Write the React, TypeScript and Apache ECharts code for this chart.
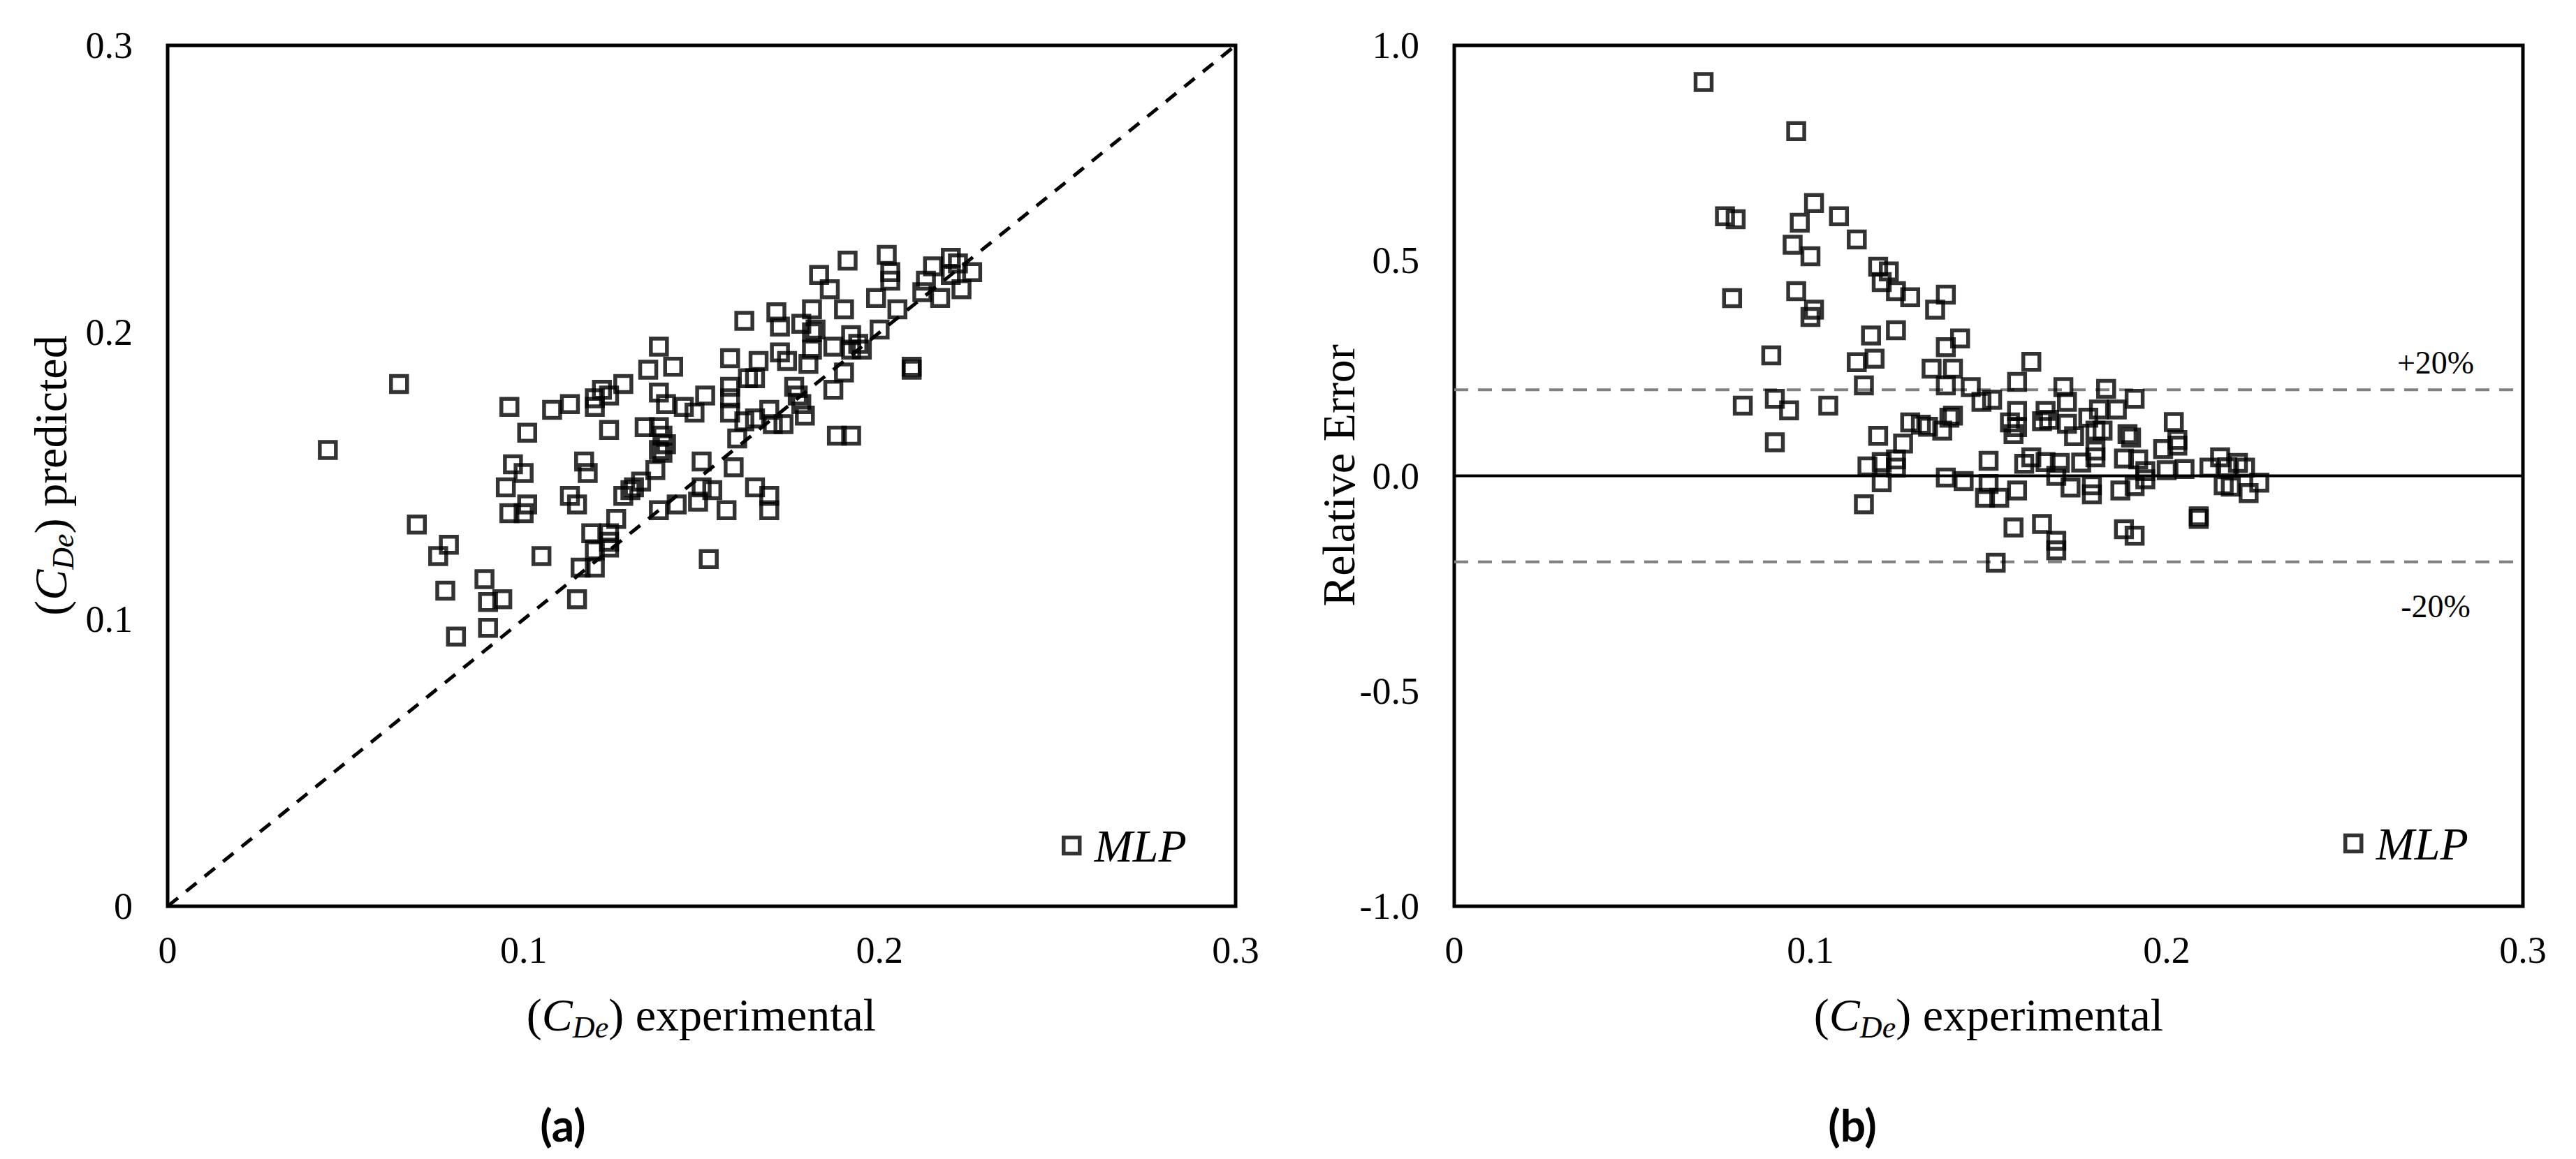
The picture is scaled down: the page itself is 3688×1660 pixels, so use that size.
import React, { useEffect, useRef } from 'react';
import * as echarts from 'echarts';

// ---------- data ----------
const xTickLabels = ['0', '0.1', '0.2', '0.3'];
const yTickLabelsA = ['0', '0.1', '0.2', '0.3'];
const yTickLabelsB = ['-1.0', '-0.5', '0.0', '0.5', '1.0'];
const seriesName = 'MLP';
const bandValues = [0.2, -0.2];
const bandLabels = ['+20%', '-20%'];
const panelLabels = ['(a)', '(b)'];

// (a) experimental vs predicted
const predictedPoints: [number, number][] = [
  [0.045, 0.159], [0.065, 0.182], [0.070, 0.133], [0.079, 0.126], [0.076, 0.122],
  [0.078, 0.110], [0.081, 0.094], [0.089, 0.114], [0.090, 0.106], [0.094, 0.107],
  [0.090, 0.097], [0.096, 0.174], [0.101, 0.165], [0.097, 0.154], [0.100, 0.151],
  [0.095, 0.146], [0.101, 0.140], [0.096, 0.137], [0.100, 0.137], [0.105, 0.122],
  [0.108, 0.173], [0.113, 0.175], [0.113, 0.143], [0.115, 0.140], [0.115, 0.107],
  [0.117, 0.155], [0.118, 0.151], [0.116, 0.118], [0.120, 0.118], [0.119, 0.130],
  [0.120, 0.124], [0.120, 0.177], [0.120, 0.174], [0.122, 0.180], [0.124, 0.178],
  [0.128, 0.182], [0.124, 0.166], [0.124, 0.127], [0.124, 0.130], [0.124, 0.125],
  [0.126, 0.135], [0.128, 0.143], [0.130, 0.145], [0.131, 0.146], [0.133, 0.148],
  [0.138, 0.195], [0.135, 0.187], [0.142, 0.188], [0.138, 0.179], [0.140, 0.175],
  [0.151, 0.178], [0.145, 0.174], [0.148, 0.172], [0.134, 0.167], [0.138, 0.167],
  [0.140, 0.161], [0.139, 0.158], [0.137, 0.152], [0.150, 0.155], [0.150, 0.146],
  [0.153, 0.145], [0.159, 0.153], [0.165, 0.146], [0.169, 0.143], [0.169, 0.138],
  [0.157, 0.138], [0.149, 0.141], [0.143, 0.140], [0.138, 0.138], [0.152, 0.121],
  [0.158, 0.191], [0.166, 0.190], [0.172, 0.193], [0.174, 0.190], [0.180, 0.189],
  [0.163, 0.184], [0.165, 0.184], [0.158, 0.181], [0.158, 0.177], [0.158, 0.172],
  [0.162, 0.204], [0.171, 0.207], [0.172, 0.202], [0.178, 0.203], [0.181, 0.208],
  [0.183, 0.220], [0.186, 0.215], [0.190, 0.208], [0.181, 0.200], [0.182, 0.201],
  [0.181, 0.194], [0.176, 0.181], [0.178, 0.175], [0.179, 0.171], [0.187, 0.180],
  [0.190, 0.186], [0.187, 0.195], [0.192, 0.199], [0.194, 0.196], [0.195, 0.194],
  [0.192, 0.194], [0.200, 0.201], [0.199, 0.212], [0.205, 0.208], [0.191, 0.225],
  [0.202, 0.227], [0.203, 0.221], [0.203, 0.218], [0.209, 0.188], [0.209, 0.187],
  [0.188, 0.164], [0.192, 0.164], [0.215, 0.223], [0.220, 0.226], [0.222, 0.224],
  [0.226, 0.221], [0.213, 0.218], [0.212, 0.214], [0.217, 0.212], [0.223, 0.215],
  [0.220, 0.220], [0.160, 0.163], [0.165, 0.170], [0.169, 0.173], [0.170, 0.168],
  [0.173, 0.168], [0.162, 0.169], [0.177, 0.178], [0.138, 0.159], [0.139, 0.164],
];

// (b) experimental vs relative error
const relativeErrorPoints: [number, number][] = [
  [0.070, 0.915], [0.096, 0.801], [0.076, 0.603], [0.079, 0.596], [0.101, 0.634],
  [0.097, 0.588], [0.108, 0.603], [0.095, 0.537], [0.100, 0.510], [0.113, 0.549],
  [0.119, 0.486], [0.122, 0.475], [0.120, 0.450], [0.124, 0.429], [0.128, 0.415],
  [0.138, 0.421], [0.135, 0.386], [0.078, 0.413], [0.096, 0.429], [0.101, 0.386],
  [0.100, 0.369], [0.117, 0.326], [0.124, 0.338], [0.142, 0.319], [0.138, 0.299],
  [0.089, 0.280], [0.113, 0.264], [0.118, 0.272], [0.134, 0.249], [0.140, 0.249],
  [0.115, 0.210], [0.138, 0.210], [0.145, 0.206], [0.158, 0.218], [0.162, 0.265],
  [0.081, 0.163], [0.090, 0.179], [0.094, 0.152], [0.105, 0.163], [0.090, 0.078],
  [0.119, 0.093], [0.126, 0.075], [0.128, 0.124], [0.131, 0.119], [0.133, 0.114],
  [0.137, 0.105], [0.140, 0.140], [0.139, 0.135], [0.148, 0.172], [0.151, 0.177],
  [0.158, 0.151], [0.157, 0.097], [0.158, 0.113], [0.150, 0.035], [0.160, 0.028],
  [0.116, 0.022], [0.120, 0.032], [0.124, 0.038], [0.124, 0.019], [0.120, -0.015],
  [0.115, -0.066], [0.138, -0.004], [0.143, -0.012], [0.150, -0.019], [0.149, -0.051],
  [0.153, -0.051], [0.158, -0.034], [0.157, -0.120], [0.152, -0.202], [0.171, 0.206],
  [0.183, 0.202], [0.191, 0.179], [0.172, 0.172], [0.166, 0.151], [0.165, 0.127],
  [0.167, 0.130], [0.172, 0.121], [0.181, 0.154], [0.186, 0.154], [0.178, 0.135],
  [0.180, 0.105], [0.182, 0.105], [0.174, 0.092], [0.189, 0.097], [0.190, 0.089],
  [0.202, 0.125], [0.203, 0.083], [0.203, 0.070], [0.199, 0.062], [0.180, 0.059],
  [0.180, 0.043], [0.162, 0.043], [0.166, 0.032], [0.170, 0.030], [0.176, 0.031],
  [0.188, 0.040], [0.192, 0.038], [0.194, 0.011], [0.200, 0.013], [0.205, 0.016],
  [0.212, 0.019], [0.215, 0.043], [0.220, 0.030], [0.222, 0.019], [0.217, 0.020],
  [0.226, -0.016], [0.216, -0.022], [0.223, -0.040], [0.218, -0.025], [0.169, 0.000],
  [0.173, -0.027], [0.179, -0.022], [0.179, -0.043], [0.187, -0.034], [0.191, -0.024],
  [0.194, -0.008], [0.165, -0.112], [0.169, -0.151], [0.169, -0.173], [0.188, -0.124],
  [0.191, -0.139], [0.209, -0.094], [0.209, -0.100], [0.156, 0.124],
];

// ---------- styling ----------
const SERIF = 'Liberation Serif';
const X_MIN = 0, X_MAX = 0.3, X_STEP = 0.1;
const YA_MIN = 0, YA_MAX = 0.3, YA_STEP = 0.1;
const YB_MIN = -1, YB_MAX = 1, YB_STEP = 0.5;

const markerStyle = { color: 'rgba(0,0,0,0)', borderColor: '#000', borderWidth: 5.5 };

const titleRich = {
  t: { fontFamily: SERIF, fontSize: 66, lineHeight: 80, fill: '#000' },
  c: { fontFamily: SERIF, fontSize: 66, lineHeight: 80, fontStyle: 'italic', fill: '#000' },
  s: { fontFamily: SERIF, fontSize: 44, lineHeight: 42, fontStyle: 'italic', verticalAlign: 'bottom', fill: '#000' },
};

function titleText(x: number, y: number, word: string, rotation = 0) {
  return {
    type: 'text',
    x,
    y,
    rotation,
    silent: true,
    style: {
      text: `{t|(}{c|C}{s|De}{t|) ${word}}`,
      rich: titleRich,
      align: 'center',
      verticalAlign: 'middle',
      fontFamily: SERIF,
      fontSize: 66,
      fill: '#000',
    },
  };
}

function plainText(x: number, y: number, text: string, family: string, size: number, weight = 'normal') {
  return {
    type: 'text',
    x,
    y,
    silent: true,
    style: {
      text,
      align: 'center',
      verticalAlign: 'middle',
      fill: '#000',
      font: `${weight} ${size}px "${family}"`,
      fontFamily: family,
      fontSize: size,
      fontWeight: weight,
    },
  };
}

function makeXAxis(gridIndex: number) {
  return {
    gridIndex,
    type: 'value',
    min: X_MIN,
    max: X_MAX,
    interval: X_STEP,
    axisLine: { show: false },
    axisTick: { show: false },
    splitLine: { show: false },
    axisLabel: {
      margin: 36,
      fontFamily: SERIF,
      fontSize: 54,
      color: '#000',
      formatter: (v: number) => xTickLabels[Math.round((v - X_MIN) / X_STEP)] ?? '',
    },
  };
}

function makeYAxis(gridIndex: number, min: number, max: number, step: number, labels: string[]) {
  return {
    gridIndex,
    type: 'value',
    min,
    max,
    interval: step,
    axisLine: { show: false },
    axisTick: { show: false },
    splitLine: { show: false },
    axisLabel: {
      margin: 50,
      fontFamily: SERIF,
      fontSize: 54,
      color: '#000',
      formatter: (v: number) => labels[Math.round((v - min) / step)] ?? '',
    },
  };
}

function makeLegend(left: number, top: number) {
  return {
    data: [seriesName],
    left,
    top,
    padding: 0,
    orient: 'horizontal',
    icon: 'rect',
    itemWidth: 23,
    itemHeight: 23,
    selectedMode: false,
    itemStyle: { color: 'rgba(0,0,0,0)', borderColor: '#000', borderWidth: 5.5 },
    textStyle: {
      fontFamily: SERIF,
      fontStyle: 'italic',
      fontSize: 66,
      color: '#000',
      padding: [0, 0, 0, 16],
    },
  };
}

export default function App() {
  const ref = useRef<HTMLDivElement>(null);

  useEffect(() => {
    if (!ref.current) return;
    const chart = echarts.init(ref.current, null, { renderer: 'svg' });

    const option: any = {
      animation: false,
      backgroundColor: '#fff',
      grid: [
        { left: 240, top: 65, width: 1529, height: 1233, show: true, borderColor: '#000', borderWidth: 5, backgroundColor: 'rgba(0,0,0,0)', containLabel: false },
        { left: 2082, top: 65, width: 1530, height: 1233, show: true, borderColor: '#000', borderWidth: 5, backgroundColor: 'rgba(0,0,0,0)', containLabel: false },
      ],
      xAxis: [makeXAxis(0), makeXAxis(1)],
      yAxis: [
        makeYAxis(0, YA_MIN, YA_MAX, YA_STEP, yTickLabelsA),
        makeYAxis(1, YB_MIN, YB_MAX, YB_STEP, yTickLabelsB),
      ],
      legend: [makeLegend(1520, 1178), makeLegend(3355, 1175)],
      series: [
        {
          name: 'parity',
          type: 'line',
          xAxisIndex: 0,
          yAxisIndex: 0,
          data: [[X_MIN, YA_MIN], [X_MAX, YA_MAX]],
          symbol: 'none',
          silent: true,
          z: 1,
          lineStyle: { color: '#000', width: 5, type: [19, 15] },
        },
        {
          name: seriesName,
          type: 'scatter',
          xAxisIndex: 0,
          yAxisIndex: 0,
          symbol: 'rect',
          symbolSize: 23,
          itemStyle: markerStyle,
          z: 3,
          data: predictedPoints,
        },
        {
          name: 'zero',
          type: 'line',
          xAxisIndex: 1,
          yAxisIndex: 1,
          data: [[X_MIN, 0], [X_MAX, 0]],
          symbol: 'none',
          silent: true,
          z: 1,
          lineStyle: { color: '#000', width: 4 },
        },
        ...bandValues.map((b, i) => ({
          name: 'band' + i,
          type: 'line',
          xAxisIndex: 1,
          yAxisIndex: 1,
          data: [[X_MIN, b], [X_MAX, b]],
          symbol: 'none',
          silent: true,
          z: 1,
          lineStyle: { color: '#808080', width: 4, type: [20, 14] },
        })),
        {
          name: seriesName,
          type: 'scatter',
          xAxisIndex: 1,
          yAxisIndex: 1,
          symbol: 'rect',
          symbolSize: 23,
          itemStyle: markerStyle,
          z: 3,
          data: relativeErrorPoints,
        },
      ],
      graphic: [
        titleText(1004, 1453, 'experimental'),
        titleText(2847, 1453, 'experimental'),
        titleText(72, 681, 'predicted', Math.PI / 2),
        {
          type: 'text',
          x: 1916,
          y: 681,
          rotation: Math.PI / 2,
          silent: true,
          style: { text: 'Relative Error', align: 'center', verticalAlign: 'middle', fontFamily: SERIF, fontSize: 66, fill: '#000' },
        },
        plainText(3487, 519, bandLabels[0], SERIF, 46),
        plainText(3487, 868, bandLabels[1], SERIF, 46),
        plainText(806, 1610, panelLabels[0], 'Lato', 64, 'bold'),
        plainText(2652, 1610, panelLabels[1], 'Lato', 64, 'bold'),
      ],
    };

    chart.setOption(option);
    return () => chart.dispose();
  }, []);

  return (
    <div
      ref={ref}
      style={{ position: 'fixed', left: 0, top: 0, width: 3688, height: 1660, background: '#fff' }}
    />
  );
}
